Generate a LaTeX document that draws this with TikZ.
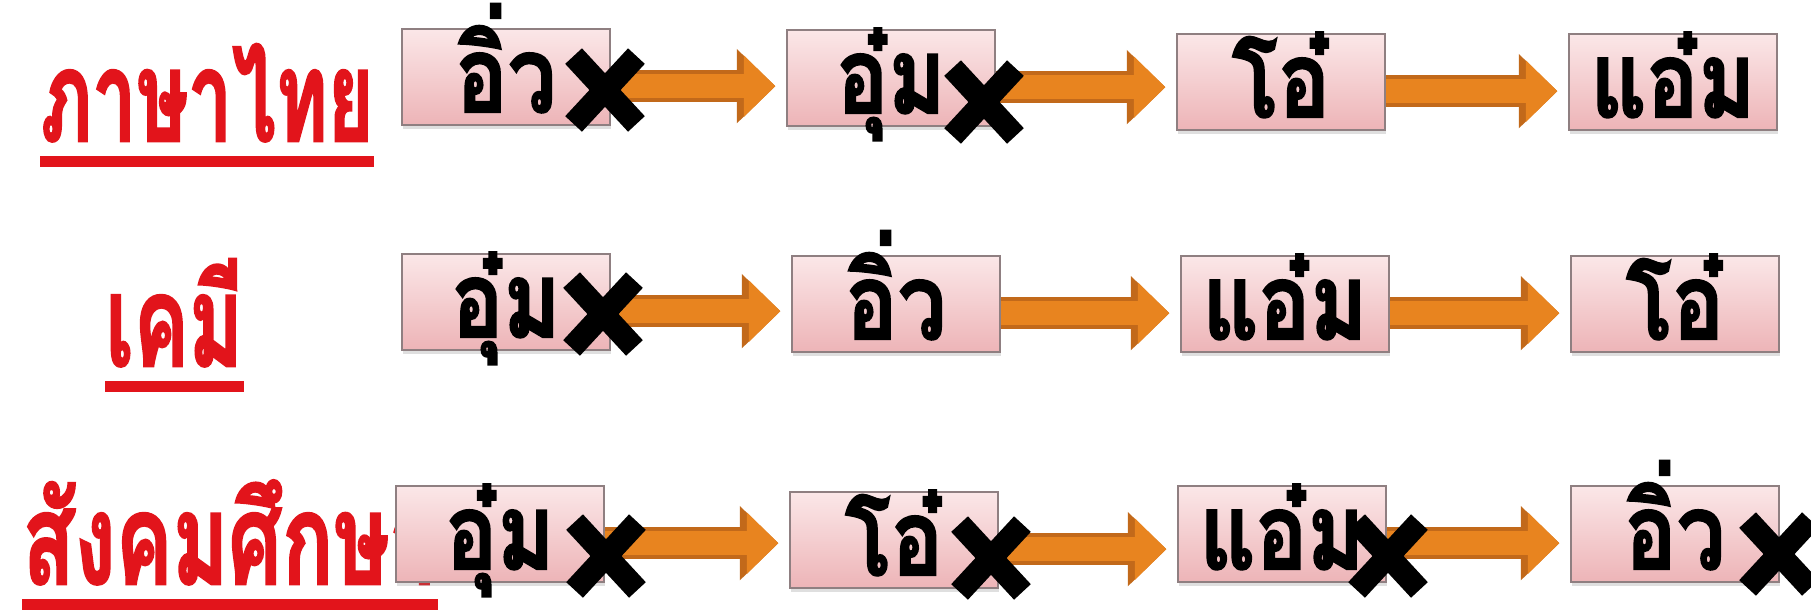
\documentclass[tikz,border=0pt]{standalone}
\usepackage{fontspec}
\usepackage{graphicx}
\usetikzlibrary{arrows.meta,shapes.misc,shadows}
\newfontfamily\thaifont[Script=Thai,BoldFeatures={FakeBold=2}]{Loma}

\definecolor{subjred}{HTML}{E2141B}
\definecolor{boxtop}{HTML}{FBE7E8}
\definecolor{boxbot}{HTML}{EDB4B7}
\definecolor{boxline}{HTML}{8F7F81}
\definecolor{flow}{HTML}{E8841F}
\definecolor{flowdark}{HTML}{C2691A}

\tikzset{
  subject/.style={anchor=base west, inner sep=0pt, text=subjred,
    font=\thaifont\bfseries\fontsize{36}{40}\selectfont},
  uline/.style={draw=subjred, line width=3.2pt},
  pupil/.style={draw=boxline, line width=0.6pt,
    top color=boxtop, bottom color=boxbot,
    minimum width=20.8mm, minimum height=9.6mm, inner sep=0pt,
    text height=21pt, text depth=1pt,
    font=\thaifont\bfseries\fontsize{30}{32}\selectfont,
    drop shadow={opacity=0.25, shadow xshift=0.4pt, shadow yshift=-1.2pt}},
  flowarrow/.style={draw=flow, line width=7pt, shorten >=3pt,
    -{Triangle[width=17pt,length=9pt]},
    preaction={draw=flowdark, line width=9pt, shorten >=3pt,
      -{Triangle[width=20.5pt,length=11pt]}}},
  xmark/.style={cross out, draw=black, line width=6.5pt,
    minimum width=4mm, minimum height=4.5mm, inner sep=0pt}
}

\begin{document}
\begin{tikzpicture}[x=0.1mm,y=-0.1mm]
\useasboundingbox (0,0) rectangle (1811,610);

% subjects
\node[subject] (t1) at (40,141) {\scalebox{0.62}[1]{ภาษาไทย}};
\node[subject] (t2) at (105,366) {\scalebox{0.65}[1]{เคมี}};
\node[subject] (t3) at (22,584) {\scalebox{0.67}[1]{สังคมศึกษา}};
\foreach \t in {1,2,3}
{
\draw[uline] ([yshift=-5.8pt]t\t.base west) -- ([yshift=-5.8pt]t\t.base east);
}

% pupils
\foreach \r/\c/\x/\y/\who in {
  1/1/506/77/อิ่ว, 1/2/891/78/อุ๋ม, 1/3/1281/82/โอ๋, 1/4/1673/82/แอ๋ม,
  2/1/506/302/อุ๋ม, 2/2/896/304/อิ่ว, 2/3/1285/304/แอ๋ม, 2/4/1675/304/โอ๋,
  3/1/500/534/อุ๋ม, 3/2/894/540/โอ๋, 3/3/1282/534/แอ๋ม, 3/4/1675/534/อิ่ว}
{
\node[pupil] (b\r\c) at (\x,\y) {\scalebox{0.82}[1]{\who}};
}

% order
\foreach \r in {1,2,3}
{
\foreach \c [count=\n from 2] in {1,2,3}
  \draw[flowarrow] ([yshift=-2.6pt]b\r\c.east)
    -- ([yshift=-2.6pt]b\r\c.east -| b\r\n.west);
}

% crossed out
\foreach \p/\x/\y in {11/605/90, 12/984/102, 21/603/314,
  31/606/556, 32/991/558, 33/1388/556, 34/1779/554}
{
\node[xmark] (x\p) at (\x,\y) {};
}
\end{tikzpicture}
\end{document}
